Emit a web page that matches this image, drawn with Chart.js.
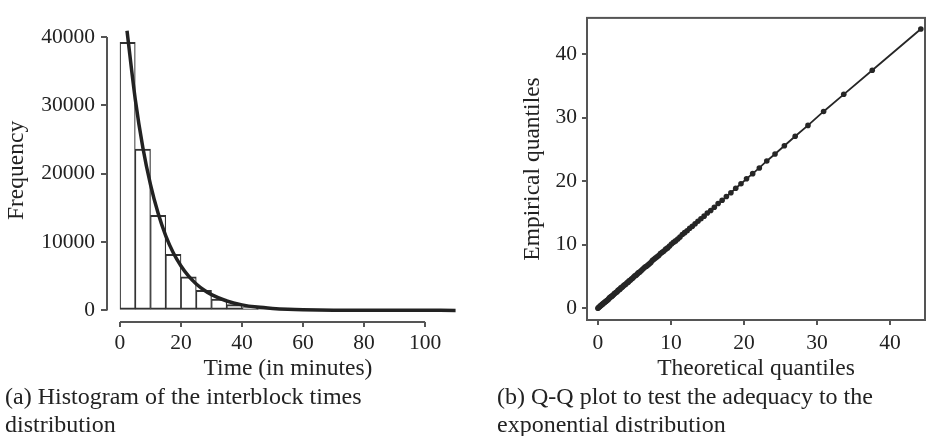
<!DOCTYPE html>
<html>
<head>
<meta charset="utf-8">
<script src="https://cdn.jsdelivr.net/npm/chart.js@4"></script>
<style>
  html, body { margin: 0; padding: 0; background: #fff; }
  body { width: 929px; height: 436px; position: relative; overflow: hidden;
         font-family: 'Liberation Serif', 'Times New Roman', serif; color: #222; }
  canvas { position: absolute; top: 0; }
  #histChart { left: 0; }
  #qqChart { left: 480px; }
  .caption { position: absolute; font-size: 24px; line-height: 28px; white-space: nowrap; }
</style>
</head>
<body>
<canvas id="histChart" width="475" height="383"></canvas>
<canvas id="qqChart" width="449" height="383"></canvas>
<div class="caption" style="left:5px; top:382px;">(a) Histogram of the interblock times<br>distribution</div>
<div class="caption" style="left:497px; top:382px;">(b) Q-Q plot to test the adequacy to the<br>exponential distribution</div>
<script>
// Two panels: histogram of interblock times with fitted exponential, and the Q-Q plot.

const INK = '#222';
const AXIS = '#555';
const SERIF = "'Liberation Serif', 'Times New Roman', serif";

// histogram, 5 minute bins
const BIN_WIDTH = 5;
const BIN_START = [0, 5, 10, 15, 20, 25, 30, 35, 40, 45, 50, 55, 60, 65, 70, 75, 80, 85, 90, 95, 100, 105];
const BIN_COUNT = [39200, 23600, 13900, 8200, 4900, 2950, 1650, 850, 400, 300, 180, 100, 60, 35, 20, 12, 7, 4, 2, 1, 1, 0];

// fitted exponential density (scaled to counts)
const FIT_T = [2.3, 5, 7.5, 10, 12.5, 15, 17.5, 20, 22.5, 25, 27.5, 30, 35, 40, 45, 50, 55, 60, 70, 80, 90, 100, 110];
const FIT_F = [40900, 30900, 23800, 18400, 14200, 10900, 8400, 6500, 5000, 3860, 2980, 2300, 1370, 810, 480, 290, 170, 100, 35, 12, 4, 2, 0];

const HIST_X_TICKS = [0, 20, 40, 60, 80, 100];
const HIST_Y_TICKS = [0, 10000, 20000, 30000, 40000];

// Q-Q plot: theoretical vs empirical quantiles
const QQ_THEO = [0, 0.10, 0.19, 0.29, 0.39, 0.49, 0.59, 0.70, 0.80, 0.91,
  1.01, 1.12, 1.23, 1.34, 1.45, 1.56, 1.67, 1.79, 1.91, 2.02,
  2.14, 2.26, 2.39, 2.51, 2.63, 2.76, 2.89, 3.02, 3.15, 3.29,
  3.42, 3.56, 3.70, 3.84, 3.99, 4.14, 4.28, 4.44, 4.59, 4.75,
  4.90, 5.07, 5.23, 5.40, 5.57, 5.74, 5.92, 6.09, 6.28, 6.46,
  6.65, 6.85, 7.05, 7.25, 7.45, 7.67, 7.88, 8.10, 8.33, 8.56,
  8.80, 9.04, 9.29, 9.55, 9.81, 10.08, 10.36, 10.64, 10.94, 11.24,
  11.56, 11.88, 12.22, 12.57, 12.93, 13.31, 13.70, 14.11, 14.54, 14.98,
  15.45, 15.94, 16.46, 17.01, 17.59, 18.21, 18.87, 19.59, 20.35, 21.19,
  22.10, 23.12, 24.25, 25.53, 27.01, 28.76, 30.90, 33.66, 37.56, 44.21];
const QQ_EMP = [0, 0.1, 0.2, 0.3, 0.4, 0.5, 0.6, 0.7, 0.8, 0.9,
  1.0, 1.1, 1.2, 1.3, 1.4, 1.6, 1.7, 1.8, 1.9, 2.0,
  2.1, 2.3, 2.4, 2.5, 2.6, 2.8, 2.9, 3.0, 3.2, 3.3,
  3.4, 3.6, 3.7, 3.8, 4.0, 4.1, 4.3, 4.4, 4.6, 4.7,
  4.9, 5.1, 5.2, 5.4, 5.6, 5.7, 5.9, 6.1, 6.3, 6.5,
  6.6, 6.8, 7.0, 7.2, 7.5, 7.7, 7.9, 8.1, 8.3, 8.6,
  8.8, 9.0, 9.3, 9.5, 9.8, 10.1, 10.4, 10.6, 10.9, 11.2,
  11.6, 11.9, 12.2, 12.6, 12.9, 13.3, 13.7, 14.1, 14.5, 15.0,
  15.4, 15.9, 16.5, 17.0, 17.6, 18.2, 18.9, 19.6, 20.4, 21.2,
  22.1, 23.2, 24.3, 25.6, 27.1, 28.8, 31.0, 33.7, 37.5, 44.0];
const QQ_TICKS = [0, 10, 20, 30, 40];

const tickFont = { family: SERIF, size: 21.5 };
const titleFont = { family: SERIF, size: 23.5 };

// R-style axes: detached axis lines that only span the ticks, or a full box
const rAxes = {
    id: 'rAxes',
    afterDraw(chart, args, opts) {
        const { ctx, chartArea: a, scales: { x, y } } = chart;
        ctx.save();
        ctx.strokeStyle = AXIS;
        ctx.lineWidth = 2;
        if (opts.box) {
            ctx.strokeRect(a.left, a.top, a.right - a.left, a.bottom - a.top);
        } else {
            const xt = opts.xTicks, yt = opts.yTicks;
            ctx.beginPath();
            ctx.moveTo(x.getPixelForValue(xt[0]), a.bottom);
            ctx.lineTo(x.getPixelForValue(xt[xt.length - 1]), a.bottom);
            ctx.moveTo(a.left, y.getPixelForValue(yt[0]));
            ctx.lineTo(a.left, y.getPixelForValue(yt[yt.length - 1]));
            ctx.stroke();
        }
        ctx.restore();
    }
};

function axis({ min, max, ticks, title, tickLength, padding, titlePad, fit }) {
    return {
        type: 'linear',
        min, max,
        offset: false,
        afterBuildTicks: (s) => { s.ticks = ticks.map(v => ({ value: v })); },
        grid: { offset: false, drawOnChartArea: false, drawTicks: true, tickLength, color: AXIS, lineWidth: 2 },
        border: { display: false },
        ticks: { font: tickFont, color: INK, padding, maxRotation: 0, autoSkip: false, callback: (v) => String(v) },
        title: { display: true, text: title, font: titleFont, color: INK, padding: titlePad },
        afterFit: fit
    };
}

new Chart(document.getElementById('histChart'), {
    type: 'bar',
    data: {
        datasets: [{
            type: 'line',
            data: FIT_T.map((t, i) => ({ x: t, y: FIT_F[i] })),
            borderColor: INK,
            borderWidth: 3.5,
            pointRadius: 0,
            cubicInterpolationMode: 'monotone',
            order: 0
        }, {
            data: BIN_START.map((s, i) => ({ x: s + BIN_WIDTH / 2, y: BIN_COUNT[i] })),
            backgroundColor: '#fff',
            borderColor: '#333',
            borderWidth: { top: 2, left: 1.2, right: 1.2, bottom: 2 },
            borderSkipped: false,
            barPercentage: 1,
            categoryPercentage: 1,
            order: 1
        }]
    },
    options: {
        responsive: false,
        animation: false,
        layout: { padding: { top: 11, right: 6, left: 0, bottom: 0 } },
        plugins: {
            legend: { display: false },
            tooltip: { enabled: false },
            rAxes: { xTicks: HIST_X_TICKS, yTicks: HIST_Y_TICKS }
        },
        scales: {
            x: axis({ min: -4.26, max: 114.4, ticks: HIST_X_TICKS, title: 'Time (in minutes)',
                tickLength: 5, padding: 3, titlePad: { top: 0, bottom: 0 }, fit: (s) => { s.height = 61; } }),
            y: axis({ min: -1700, max: 42640, ticks: HIST_Y_TICKS, title: 'Frequency',
                tickLength: 6, padding: 6, titlePad: { top: 3, bottom: 0 }, fit: (s) => { s.width = 107; } })
        }
    },
    plugins: [rAxes]
});

new Chart(document.getElementById('qqChart'), {
    type: 'scatter',
    data: {
        datasets: [{
            data: QQ_THEO.map((t, i) => ({ x: t, y: QQ_EMP[i] })),
            showLine: true,
            borderColor: '#262626',
            borderWidth: 1.8,
            pointRadius: 2.8,
            pointBorderWidth: 0,
            pointBackgroundColor: '#262626'
        }]
    },
    options: {
        responsive: false,
        animation: false,
        layout: { padding: { top: 13, right: 1, left: 0, bottom: 0 } },
        plugins: {
            legend: { display: false },
            tooltip: { enabled: false },
            rAxes: { box: true }
        },
        scales: {
            x: axis({ min: -1.49, max: 44.78, ticks: QQ_TICKS, title: 'Theoretical quantiles',
                tickLength: 5, padding: 5, titlePad: { top: 0, bottom: 0 }, fit: (s) => { s.height = 63; } }),
            y: axis({ min: -1.86, max: 45.74, ticks: QQ_TICKS, title: 'Empirical quantiles',
                tickLength: 5, padding: 5, titlePad: { top: 39, bottom: 0 }, fit: (s) => { s.width = 107; } })
        }
    },
    plugins: [rAxes]
});
</script>
</body>
</html>
